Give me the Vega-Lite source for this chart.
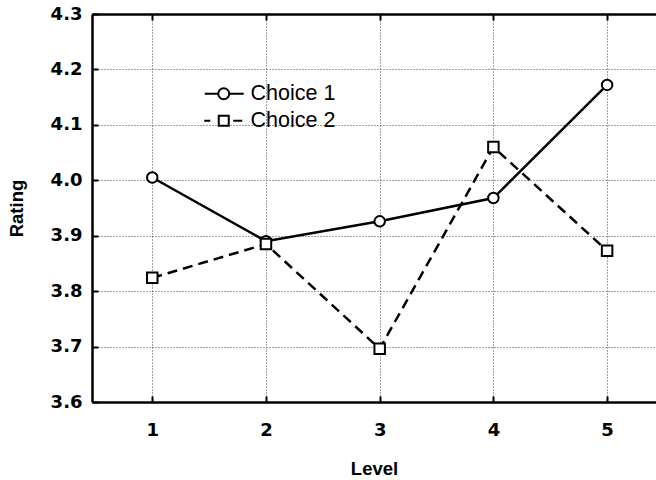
{
  "$schema": "https://vega.github.io/schema/vega-lite/v6.json",
  "autosize": "none",
  "padding": {"left": 92, "top": 14, "right": 0, "bottom": 78},
  "width": 564,
  "height": 388,
  "background": "white",
  "config": {
    "view": {"stroke": null},
    "font": "Liberation Sans",
    "axis": {
      "domainColor": "black", "domainWidth": 2.5,
      "tickColor": "black", "tickWidth": 2, "tickSize": -6,
      "labelFont": "DejaVu Sans", "labelFontWeight": "bold", "labelFontSize": 18, "labelColor": "black",
      "titleFont": "Liberation Sans", "titleFontSize": 18.5, "titleFontWeight": "bold", "titleColor": "black",
      "gridColor": "#444", "gridDash": [1, 2], "gridWidth": 1, "gridOpacity": 1
    }
  },
  "data": {
    "values": [
      {"level": 1, "series": "Choice 1", "rating": 4.005},
      {"level": 2, "series": "Choice 1", "rating": 3.89},
      {"level": 3, "series": "Choice 1", "rating": 3.926},
      {"level": 4, "series": "Choice 1", "rating": 3.968},
      {"level": 5, "series": "Choice 1", "rating": 4.172},
      {"level": 1, "series": "Choice 2", "rating": 3.824},
      {"level": 2, "series": "Choice 2", "rating": 3.885},
      {"level": 3, "series": "Choice 2", "rating": 3.696},
      {"level": 4, "series": "Choice 2", "rating": 4.06},
      {"level": 5, "series": "Choice 2", "rating": 3.873}
    ]
  },
  "layer": [
    {
      "transform": [{"filter": "datum.series === 'Choice 1'"}],
      "mark": {"type": "line", "strokeWidth": 2.5, "color": "black"},
      "encoding": {
        "x": {
          "field": "level", "type": "quantitative",
          "scale": {"domain": [0.47, 5.43], "nice": false, "zero": false},
          "axis": {"orient": "bottom", "values": [1, 2, 3, 4, 5], "format": "d", "title": "Level", "labelPadding": 25, "titlePadding": 20, "grid": true}
        },
        "y": {
          "field": "rating", "type": "quantitative",
          "scale": {"domain": [3.6, 4.3], "nice": false, "zero": false},
          "axis": {"values": [3.6, 3.7, 3.8, 3.9, 4.0, 4.1, 4.2, 4.3], "format": ".1f", "title": "Rating", "labelPadding": 16, "titlePadding": 24, "grid": true}
        }
      }
    },
    {
      "transform": [{"filter": "datum.series === 'Choice 2'"}],
      "mark": {"type": "line", "strokeWidth": 2.5, "color": "black", "strokeDash": [10, 6]},
      "encoding": {
        "x": {"field": "level", "type": "quantitative", "axis": null},
        "y": {"field": "rating", "type": "quantitative"}
      }
    },
    {
      "transform": [{"filter": "datum.series === 'Choice 1'"}],
      "mark": {"type": "point", "shape": "circle", "filled": true, "fill": "white", "stroke": "black", "strokeWidth": 2, "size": 110, "opacity": 1},
      "encoding": {
        "x": {
          "field": "level", "type": "quantitative",
          "axis": {"orient": "top", "labels": false, "title": null, "grid": false, "values": [1, 2, 3, 4, 5]}
        },
        "y": {"field": "rating", "type": "quantitative"}
      }
    },
    {
      "transform": [{"filter": "datum.series === 'Choice 2'"}],
      "mark": {"type": "point", "shape": "square", "filled": true, "fill": "white", "stroke": "black", "strokeWidth": 2, "size": 110, "opacity": 1},
      "encoding": {
        "x": {"field": "level", "type": "quantitative", "axis": null},
        "y": {"field": "rating", "type": "quantitative"}
      }
    },
    {
      "transform": [{"filter": "false"}],
      "mark": {"type": "point", "filled": false, "color": "black", "strokeWidth": 2, "opacity": 1},
      "encoding": {
        "x": {"field": "level", "type": "quantitative", "axis": null},
        "y": {"field": "rating", "type": "quantitative"},
        "shape": {
          "field": "series", "type": "nominal",
          "scale": {
            "domain": ["Choice 1", "Choice 2"],
            "range": [
              "M-3.8,0H-1.1M1.1,0H4M-1.1,0A1.1,1.1 0 1,0 1.1,0A1.1,1.1 0 1,0 -1.1,0",
              "M-3.9,0H-2.7M1.9,0H3.7M-1,-1H1V1H-1Z"
            ]
          },
          "legend": {
            "title": null, "orient": "none", "legendX": 121, "legendY": 69, "padding": 0,
            "symbolSize": 100, "symbolStrokeWidth": 2, "symbolStrokeColor": "black", "symbolFillColor": "white",
            "labelFont": "Liberation Sans", "labelFontSize": 21.5, "labelFontWeight": "normal", "labelColor": "black",
            "labelOffset": 16, "rowPadding": 4
          }
        }
      }
    }
  ],
  "resolve": {"axis": {"x": "independent"}}
}
